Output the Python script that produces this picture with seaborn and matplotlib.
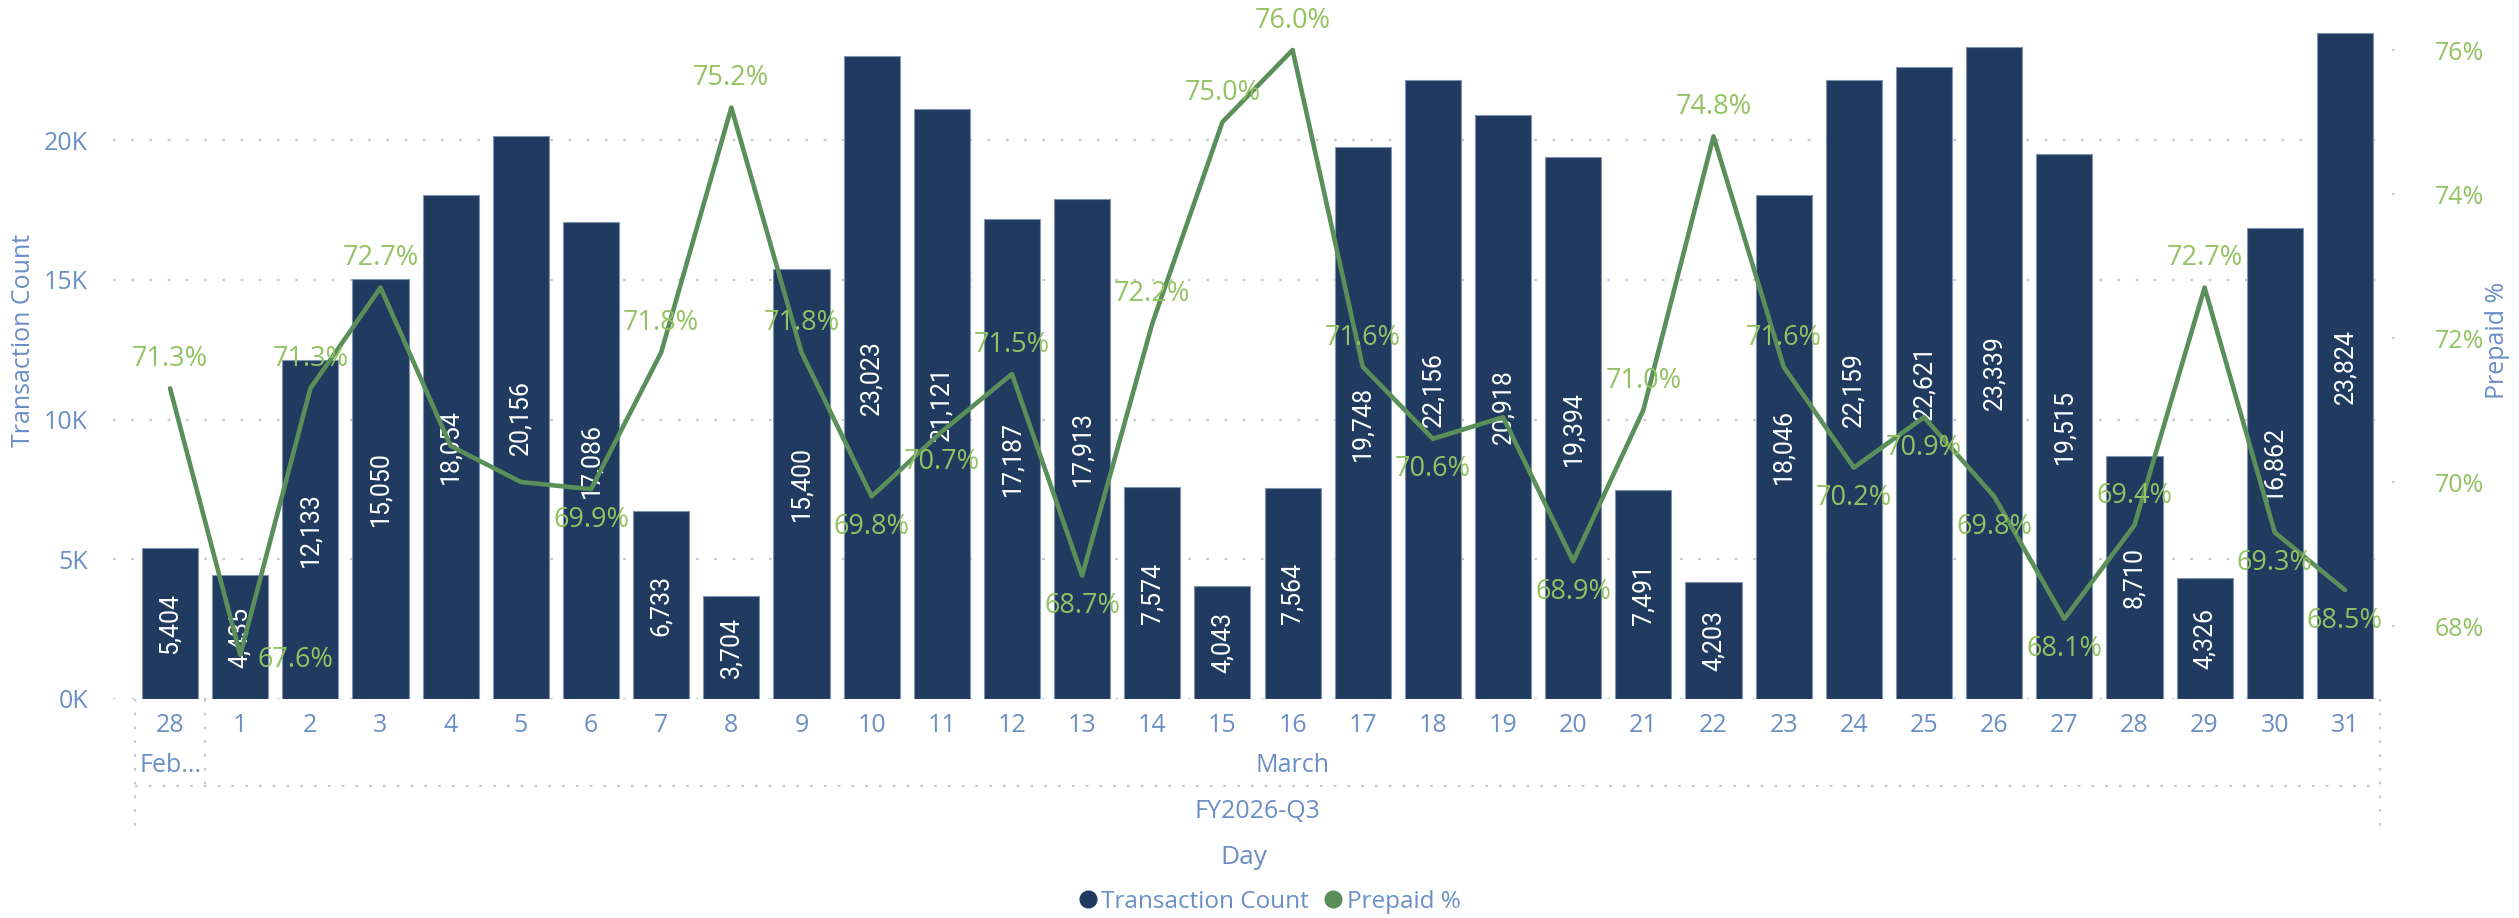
import matplotlib
matplotlib.use("Agg")
import matplotlib.pyplot as plt
import matplotlib.transforms as mtransforms
from matplotlib import font_manager as fm
from matplotlib.lines import Line2D
import seaborn as sns
import pandas as pd

# ---------------- data ----------------
months = ["Feb"] + ["Mar"] * 31
days = [28] + list(range(1, 32))
transaction_count = [5404, 4435, 12133, 15050, 18054, 20156, 17086, 6733, 3704, 15400,
                     23023, 21121, 17187, 17913, 7574, 4043, 7564, 19748, 22156, 20918,
                     19394, 7491, 4203, 18046, 22159, 22621, 23339, 19515, 8710, 4326,
                     16862, 23824]
prepaid_pct = [71.3, 67.6, 71.3, 72.7, 70.5, 70.0, 69.9, 71.8, 75.2, 71.8,
               69.8, 70.7, 71.5, 68.7, 72.2, 75.0, 76.0, 71.6, 70.6, 70.9,
               68.9, 71.0, 74.8, 71.6, 70.2, 70.9, 69.8, 68.1, 69.4, 72.7,
               69.3, 68.5]
left_ticks = [0, 5000, 10000, 15000, 20000]
left_tick_labels = ["0K", "5K", "10K", "15K", "20K"]
right_ticks = [68, 70, 72, 74, 76]
right_tick_labels = ["68%", "70%", "72%", "74%", "76%"]
month_groups = ["Feb...", "March"]
quarter_label = "FY2026-Q3"

# label placement style for % labels: a=above, b=below, r=right, n=hidden
pct_label_place = ["a", "r", "a", "a", "n", "n", "b", "a", "a", "a",
                   "b", "b", "a", "b", "a", "a", "a", "a", "b", "n",
                   "b", "a", "a", "a", "b", "b", "b", "b", "a", "a",
                   "b", "b"]

# ---------------- style ----------------
W, H = 2519, 918
NAVY = "#203A60"
LINE_GREEN = "#5A8F5A"
LABEL_GREEN = "#93C262"
BLUE_TXT = "#6A8FC6"
GRID = "#C8C8C8"

names = {f.name for f in fm.fontManager.ttflist}
BASE = "Open Sans" if "Open Sans" in names else "DejaVu Sans"
NARROW = "Liberation Sans Narrow" if "Liberation Sans Narrow" in names else "Roboto"
narrow_size = 21 if NARROW == "Liberation Sans Narrow" else 18

sns.set_theme(style="white")
plt.rcParams["font.family"] = [BASE, "DejaVu Sans"]

df = pd.DataFrame({
    "key": [f"{m} {d}" for m, d in zip(months, days)],
    "day": days,
    "count": transaction_count,
    "pct": prepaid_pct,
})
df["pos"] = range(len(df))

fig = plt.figure(figsize=(W / 100, H / 100), dpi=100)
ax_left, ax_right, ax_top, ax_bot = 113, 2390, 20, 699
ax = fig.add_axes([ax_left / W, 1 - ax_bot / H, (ax_right - ax_left) / W, (ax_bot - ax_top) / H])

sns.barplot(data=df, x="key", y="count", order=list(df["key"]), color=NAVY,
            saturation=1, width=0.8, edgecolor="#8194AE", linewidth=0.8, ax=ax)

px_per_cat = 70.15
ax.set_xlim(-0.5 - 22 / px_per_cat, len(df) - 0.5 + 10 / px_per_cat)
ax.set_ylim(0, 679 / 27.94 * 1000)
ax.set_yticks(left_ticks)
ax.set_yticklabels(left_tick_labels)
ax.tick_params(axis="y", length=0, pad=18, labelsize=18, labelcolor=BLUE_TXT)
ax.set_xticks([])
ax.set_xlabel("")
ax.set_ylabel("")
ax.yaxis.grid(True, color=GRID, linestyle=(0, (1.2, 7)), linewidth=1.6)
ax.set_axisbelow(True)
for s in ax.spines.values():
    s.set_visible(False)

# bar data labels
for i, v in enumerate(df["count"]):
    ax.text(i, v / 2, f"{v:,}", rotation=90, ha="center", va="center",
            color="white", fontsize=narrow_size, family=[NARROW, "DejaVu Sans"])

# line on secondary axis
ax2 = ax.twinx()
sns.lineplot(data=df, x="pos", y="pct", color=LINE_GREEN, linewidth=3.3, ax=ax2)
ax2.set_ylim(68 - 73 / 72, 68 + 606 / 72)
ax2.set_yticks(right_ticks)
ax2.set_yticklabels(right_tick_labels)
ax2.tick_params(axis="y", length=0, pad=32, labelsize=18, labelcolor=LABEL_GREEN)
ax2.set_xlabel("")
ax2.set_ylabel("")
ax2.grid(False)
for s in ax2.spines.values():
    s.set_visible(False)
ax2.set_xlim(ax.get_xlim())

# small dotted stubs next to right-axis ticks
tr_r = mtransforms.blended_transform_factory(fig.transFigure, ax2.transData)
for t in right_ticks:
    ax2.add_line(Line2D([2392 / W, 2404 / W], [t, t], transform=tr_r, color=GRID,
                        linestyle=(0, (1.2, 5)), linewidth=1.6, clip_on=False))

for i, (v, p) in enumerate(zip(df["pct"], pct_label_place)):
    if p == "n":
        continue
    if p == "a":
        off = (0, 21)
    elif p == "b":
        off = (0, -22)
    else:
        off = (40, -4)
    ax2.annotate(f"{v:.1f}%", (i, v), xytext=off, textcoords="offset points",
                 ha="center", va="center", color=LABEL_GREEN, fontsize=19.5)

# ---------------- hierarchical x axis ----------------
tr = mtransforms.blended_transform_factory(ax.transData, fig.transFigure)
def fy(px):
    return 1 - px / H

for i, d in enumerate(df["day"]):
    ax.text(i, fy(726), str(d), transform=tr, ha="center", va="center",
            color=BLUE_TXT, fontsize=18, clip_on=False)
ax.text(0, fy(765), month_groups[0], transform=tr, ha="center", va="center",
        color=BLUE_TXT, fontsize=18, clip_on=False)
ax.text((1 + len(df) - 1) / 2, fy(765), month_groups[1], transform=tr, ha="center",
        va="center", color=BLUE_TXT, fontsize=18, clip_on=False)
ax.text((len(df) - 1) / 2, fy(811), quarter_label, transform=tr, ha="center",
        va="center", color=BLUE_TXT, fontsize=18, clip_on=False)

dot = dict(color=GRID, linestyle=(0, (1.2, 5)), linewidth=1.6, transform=tr, clip_on=False)
n = len(df)
ax.add_line(Line2D([-0.5, -0.5], [fy(699), fy(832)], **dot))
ax.add_line(Line2D([0.5, 0.5], [fy(699), fy(786)], **dot))
ax.add_line(Line2D([n - 0.5, n - 0.5], [fy(699), fy(832)], **dot))
ax.add_line(Line2D([-0.5, n - 0.5], [fy(786), fy(786)], **dot))

# axis titles
fig.text((ax_left + (ax_right - ax_left) / 2 - 8) / W, fy(857), "Day", ha="center", va="center",
         color=BLUE_TXT, fontsize=19)
fig.text(24 / W, fy(340), "Transaction Count", rotation=90, ha="center", va="center",
         color=BLUE_TXT, fontsize=18)
fig.text(2497 / W, fy(340), "Prepaid %", rotation=90, ha="center", va="center",
         color=BLUE_TXT, fontsize=18)

# legend
handles = [Line2D([], [], marker="o", linestyle="", markersize=12, color=NAVY, label="Transaction Count"),
           Line2D([], [], marker="o", linestyle="", markersize=12, color=LINE_GREEN, label="Prepaid %")]
fig.legend(handles=handles, loc="center", bbox_to_anchor=(1268 / W, fy(902)), ncol=2,
           frameon=False, handletextpad=0.05, columnspacing=0.5, fontsize=17.5,
           labelcolor=BLUE_TXT, borderpad=0, handlelength=1.0)

fig.savefig("out.png", dpi=100)
